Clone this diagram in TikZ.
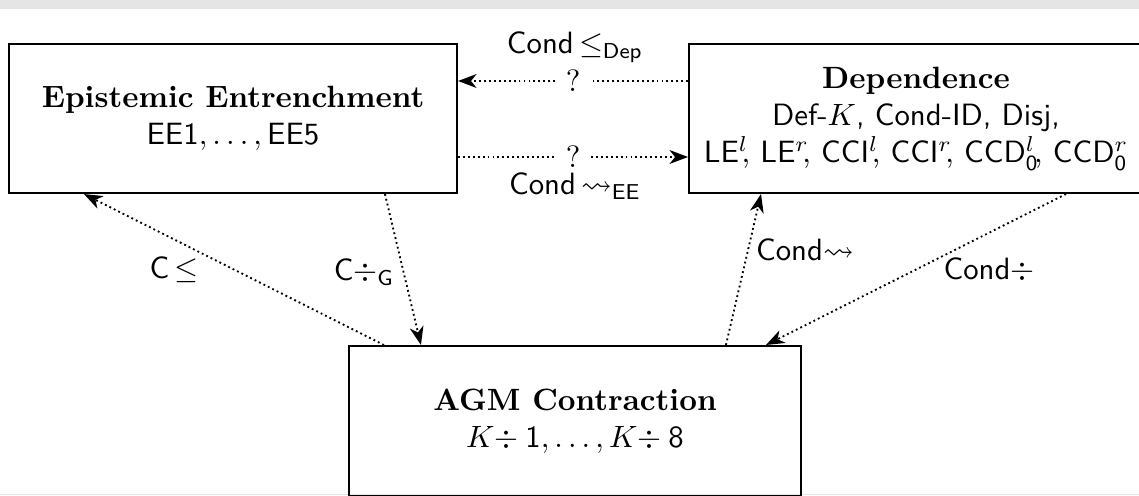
\documentclass[tikz,border=0pt]{standalone}
\usepackage{amssymb}
\usetikzlibrary{arrows.meta,calc}

\tikzset{
  theory/.style={draw, line width=0.65pt, align=center, inner sep=0pt},
  link/.style={densely dotted, line width=0.6pt,
    -{Stealth[length=6pt,width=4.5pt,inset=1.8pt]}},
  gapmark/.style={fill=white, inner xsep=3pt, inner ysep=0pt, font=\normalsize},
  tag/.style={inner sep=0pt, font=\sffamily}
}
% superscripted name followed by a tucked-in comma
\newcommand{\supc}[2]{\textsf{#1}$^{#2}$\kern-2.2pt,}

\begin{document}
\begin{tikzpicture}[x=0.3247pt, y=-0.3247pt]
  % page frame and top band
  \useasboundingbox (0,0) rectangle (1139,495);
  \clip (0,0) rectangle (1139,495);
  \fill[gray!20] (0,0) rectangle (1139,9);
  \draw[gray!20, line width=0.5pt] (0,494.5) -- (1139,494.5);

  % the three theories
  \node[theory, minimum width=145.5pt, minimum height=48.4pt] (ee) at (233,118.5)
    {\textbf{Epistemic Entrenchment}\\ $\mathsf{EE1},\ldots,\mathsf{EE5}$};
  \node[theory, minimum width=147.4pt, minimum height=48.4pt] (dep) at (916,118.5)
    {\textbf{Dependence}\\
     \textsf{Def-}$K$\textsf{, Cond-ID, Disj,}\\
     \supc{LE}{l} \supc{LE}{r} \supc{CCI}{l} \supc{CCI}{r}
     \textsf{CCD}$^l_{\mathsf{0}}$\kern-1.5pt, \textsf{CCD}$^r_{\mathsf{0}}$};
  \node[theory, minimum width=146.8pt, minimum height=48.7pt] (agm) at (575,421)
    {\textbf{AGM Contraction}\\ $K\mkern-4mu\div\mathsf{1},\ldots,K\mkern-4mu\div\mathsf{8}$};

  % open questions between entrenchment and dependence
  \draw[link] ($(dep.west)+(0,-37.5)$) -- node[gapmark] (q1) {?} ($(ee.east)+(0,-37.5)$);
  \draw[link] ($(ee.east)+(0,38.5)$) -- node[gapmark] (q2) {?} ($(dep.west)+(0,38.5)$);
  \node[tag] (lcdep) at (575,47) {Cond\,$\leq_{\mathsf{Dep}}$};
  \node[tag] (lcee) at (575,186) {Cond\,$\leadsto_{\mathsf{EE}}$};

  % constructions linking to AGM contraction
  \draw[link] ($(agm.north west)+(36,0)$) -- ($(ee.south west)+(76,0)$);
  \draw[link] ($(ee.south west)+(377,0)$) -- ($(agm.north west)+(73,0)$);
  \draw[link] ($(agm.north west)+(378,0)$) -- ($(dep.south west)+(73,0)$);
  \draw[link] ($(dep.south west)+(378,0)$) -- ($(agm.north west)+(418,0)$);

  \node[tag] (lcle) at (174,270) {C\,$\leq$};
  \node[tag] (lcdiv) at (364,272) {C$\div_{\mathsf{G}}$};
  \node[tag] (lcondlt) at (805,250) {Cond$\leadsto$};
  \node[tag] (lconddiv) at (989,270) {Cond$\div$};
\end{tikzpicture}
\end{document}
